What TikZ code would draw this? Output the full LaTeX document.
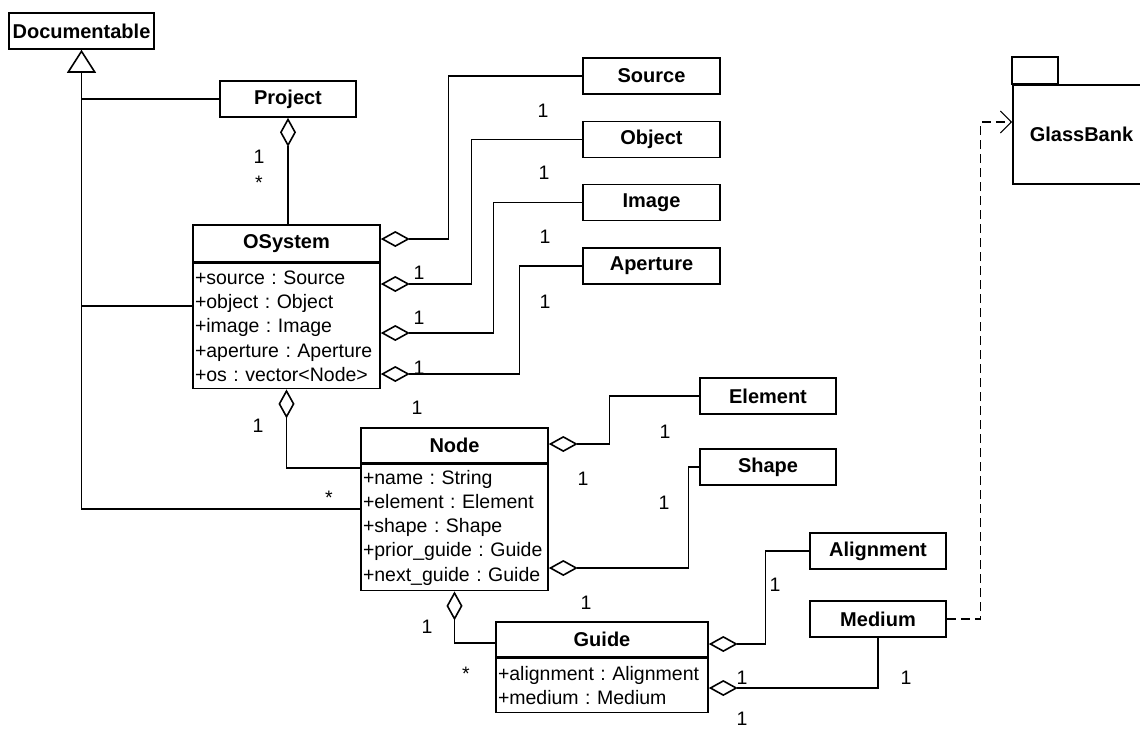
\documentclass[tikz,border=0pt]{standalone}
\usepackage{fontspec}
\setmainfont{Liberation Sans}
\usetikzlibrary{arrows.meta}
\frenchspacing
\tikzset{
    cls/.style={draw, line width=1.6pt, inner sep=0pt, minimum height=36pt,
        font=\bfseries\fontsize{20}{24}\selectfont},
    attrs/.style={draw, line width=1.6pt, anchor=north west, align=left,
        inner xsep=2pt, inner ysep=0pt, font=\fontsize{19.5}{24.3}\selectfont},
    mult/.style={inner sep=0pt, font=\fontsize{19.5}{24}\selectfont},
    link/.style={line width=1.1pt},
    aggr/.style={link, {Diamond[open, length=29pt, width=16pt, line width=1.6pt]}-},
    gen/.style={link, -{Triangle[open, length=23pt, width=29pt, line width=1.6pt]}},
    dep/.style={link, dash pattern=on 9pt off 5pt, -{Straight Barb[length=11pt, width=22pt]}}
}
\begin{document}
\begin{tikzpicture}[x=1pt, y=-1pt]
    \useasboundingbox (0,0) rectangle (1140,729);
    \node[cls, minimum width=145pt] (doc) at (81.5,31) {Documentable};
    \node[cls, minimum width=136pt] (proj) at (288,99) {Project};
    \node[cls, minimum width=137pt] (src) at (651.5,76) {Source};
    \node[cls, minimum width=137pt] (obj) at (651.5,139.5) {Object};
    \node[cls, minimum width=137pt] (img) at (651.5,202.5) {Image};
    \node[cls, minimum width=137pt] (apt) at (651.5,266) {Aperture};
    \node[cls, minimum width=136pt] (elem) at (768,396) {Element};
    \node[cls, minimum width=136pt] (shp) at (768,467) {Shape};
    \node[cls, minimum width=136pt] (algn) at (878,551) {Alignment};
    \node[cls, minimum width=136pt] (med) at (878,619) {Medium};

    \node[cls, minimum width=187pt, minimum height=37pt] (osys) at (286.5,243.5) {OSystem};
    \node[attrs, text width=183pt, minimum height=125pt] (osysa) at (osys.south west)
        {+source : Source\\+object : Object\\+image : Image\\+aperture : Aperture\\+os : vector<Node>};
    \node[cls, minimum width=187pt, minimum height=35pt] (node) at (454.5,445.5) {Node};
    \node[attrs, text width=183pt, minimum height=126pt] (nodea) at (node.south west)
        {+name : String\\+element : Element\\+shape : Shape\\\mbox{+prior\_guide : Guide}\\+next\_guide : Guide};
    \node[cls, minimum width=212pt, minimum height=35pt] (guide) at (602,639.5) {Guide};
    \node[attrs, text width=208pt, minimum height=54pt] (guidea) at (guide.south west)
        {+alignment : Alignment\\+medium : Medium};

    \node[cls, minimum width=137pt, minimum height=99pt] (glass) at (1081.5,134.5) {GlassBank};
    \draw[line width=1.6pt] (glass.north west) rectangle ++(46,-27);

    \draw[gen] (nodea.west |- 0,509) -| (doc.south);
    \draw[link] (proj.west) -- (proj.west -| doc.south);
    \draw[link] (osysa.west |- 0,306) -- (doc.south |- 0,306);

    \draw[aggr] (proj.south) -- (proj.south |- osys.north);
    \draw[aggr] (osys.east |- 0,239) -- ++(68,0) |- (src.west);
    \draw[aggr] (osysa.east |- 0,284) -- ++(91,0) |- (obj.west);
    \draw[aggr] (osysa.east |- 0,333) -- ++(113,0) |- (img.west);
    \draw[aggr] (osysa.east |- 0,374) -- ++(139,0) |- (apt.west);
    \draw[aggr] (osysa.south) |- (nodea.west |- 0,468);
    \draw[aggr] (node.east |- 0,444) -- ++(61,0) |- (elem.west);
    \draw[aggr] (nodea.east |- 0,568) -- ++(140,0) |- (shp.west);
    \draw[aggr] (nodea.south) |- (guide.west |- 0,643);
    \draw[aggr] (guide.east |- 0,644) -- ++(57,0) |- (algn.west);
    \draw[aggr] (guidea.east |- 0,688) -| (med.south);
    \draw[dep] (med.east) -- ++(34,0) |- (glass.west |- 0,122);

    \node[mult] (m1) at (259,157) {1};
    \node[mult] (m2) at (259,183) {*};
    \node[mult] (m3) at (543,111) {1};
    \node[mult] (m4) at (544,173) {1};
    \node[mult] (m5) at (545,237) {1};
    \node[mult] (m6) at (545,302) {1};
    \node[mult] (m7) at (419,273) {1};
    \node[mult] (m8) at (419,318) {1};
    \node[mult] (m9) at (419,368) {1};
    \node[mult] (m10) at (417,408) {1};
    \node[mult] (m11) at (258,426) {1};
    \node[mult] (m12) at (329,498) {*};
    \node[mult] (m13) at (665,432) {1};
    \node[mult] (m14) at (583,479) {1};
    \node[mult] (m15) at (664,503) {1};
    \node[mult] (m16) at (775,585) {1};
    \node[mult] (m17) at (586,603) {1};
    \node[mult] (m18) at (427,627) {1};
    \node[mult] (m19) at (466,674) {*};
    \node[mult] (m20) at (742,678) {1};
    \node[mult] (m21) at (906,678) {1};
    \node[mult] (m22) at (742,719) {1};
\end{tikzpicture}
\end{document}
